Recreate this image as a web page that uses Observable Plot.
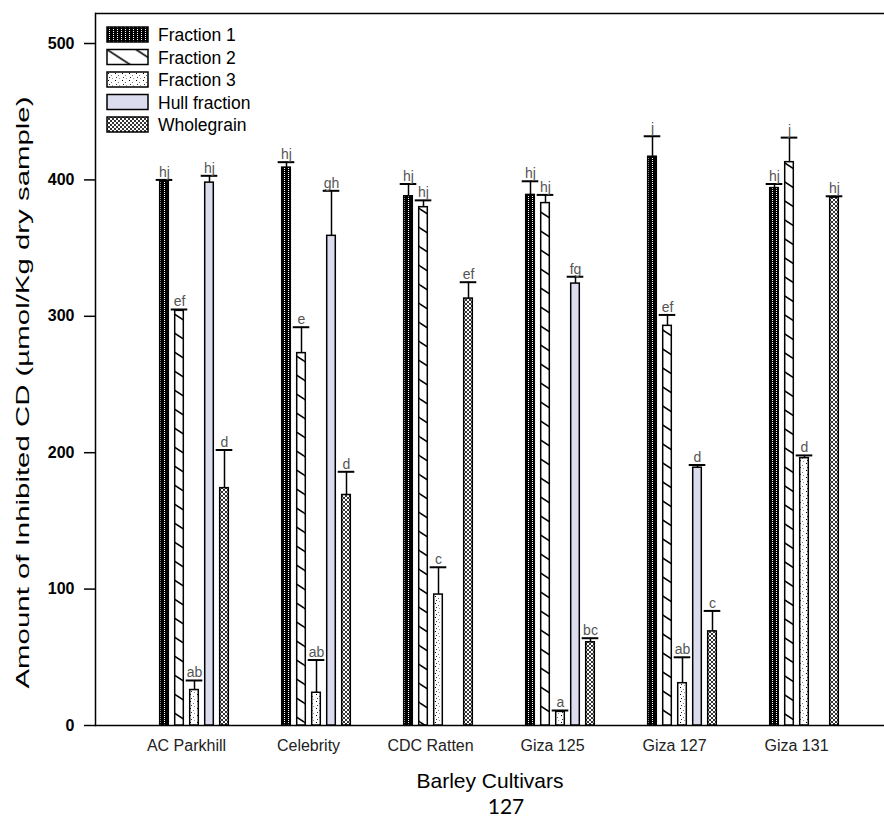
<!DOCTYPE html>
<html>
<head>
<meta charset="utf-8">
<script src="https://cdn.jsdelivr.net/npm/d3@7"></script>
<script src="https://cdn.jsdelivr.net/npm/@observablehq/plot@0.6"></script>
<style>
  html, body { margin: 0; padding: 0; background: #fff; }
  #chart { width: 884px; height: 819px; }
</style>
</head>
<body>
<svg width="0" height="0" style="position:absolute">
  <defs>
    <pattern id="pF1" patternUnits="userSpaceOnUse" width="4" height="2">
      <rect width="4" height="2" fill="#000"/>
      <rect x="2" y="0" width="1" height="1" fill="#fff"/>
    </pattern>
    <pattern id="pF2" patternUnits="userSpaceOnUse" width="29" height="19">
      <rect width="29" height="19" fill="#fff"/>
      <path d="M0,0L29,19M0,-19L29,0M0,19L29,38" stroke="#000" stroke-width="1.5"/>
    </pattern>
    <pattern id="pF3" patternUnits="userSpaceOnUse" width="7" height="7">
      <rect width="7" height="7" fill="#fff"/>
      <rect x="1" y="1" width="1" height="1" fill="#000"/>
      <rect x="4" y="3" width="1" height="1" fill="#777"/>
      <rect x="2" y="5" width="1" height="1" fill="#333"/>
      <rect x="5" y="6" width="1" height="1" fill="#999"/>
    </pattern>
    <pattern id="pWG" patternUnits="userSpaceOnUse" width="4" height="4">
      <rect width="4" height="4" fill="#fff"/>
      <path d="M0,0L4,4M4,0L0,4" stroke="#000" stroke-width="0.8"/>
    </pattern>
  </defs>
</svg>
<div id="chart"></div>
<script>
// ---- data ----
const cultivars = ["AC Parkhill", "Celebrity", "CDC Ratten", "Giza 125", "Giza 127", "Giza 131"];
const series = ["Fraction 1", "Fraction 2", "Fraction 3", "Hull fraction", "Wholegrain"];

const fraction1 = [399, 409, 388, 389, 417, 394];
const fraction1Err = [1, 4, 9, 10, 15, 3];
const fraction1Lbl = ["hj", "hj", "hj", "hj", "j", "hj"];

const fraction2 = [304, 273, 380, 383, 293, 413];
const fraction2Err = [1, 19, 5, 6, 8, 18];
const fraction2Lbl = ["ef", "e", "hj", "hj", "ef", "j"];

const fraction3 = [26, 24, 96, 10, 31, 196];
const fraction3Err = [7, 24, 20, 1, 19, 2];
const fraction3Lbl = ["ab", "ab", "c", "a", "ab", "d"];

const hull = [398, 359, null, 324, 189, null];
const hullErr = [5, 33, null, 5, 2, null];
const hullLbl = ["hj", "gh", null, "fg", "d", null];

const wholegrain = [174, 169, 313, 61, 69, 387];
const wholegrainErr = [28, 17, 12, 3, 15, 1];
const wholegrainLbl = ["d", "d", "ef", "bc", "c", "hj"];

const yTicks = [0, 100, 200, 300, 400, 500];
const yLabel = "Amount of Inhibited CD (\u00b5mol/Kg dry sample)";
const xLabel = "Barley Cultivars";
const pageNumber = "127";

// ---- build table ----
const values = [fraction1, fraction2, fraction3, hull, wholegrain];
const errs = [fraction1Err, fraction2Err, fraction3Err, hullErr, wholegrainErr];
const lbls = [fraction1Lbl, fraction2Lbl, fraction3Lbl, hullLbl, wholegrainLbl];
const fills = ["url(#pF1)", "url(#pF2)", "url(#pF3)", "#dcdcef", "url(#pWG)"];

const rows = [];
series.forEach((s, i) => cultivars.forEach((c, j) => {
  if (values[i][j] != null) rows.push({cultivar: c, series: s, k: i, value: values[i][j], err: errs[i][j], label: lbls[i][j]});
}));

// ---- layout ----
const W = 884, H = 819, mL = 95, mR = 0, mT = 13, mB = 94;
const yTop = 522;
const padOuter = 0.223, alignX = 0.67;
const bw = (W - mL - mR) / (cultivars.length + 2 * padOuter);
const barW = 9, capW = 17, stepX = 15;

const seriesMarks = series.flatMap((s, i) => {
  const d = rows.filter(r => r.k === i);
  const dx = (i - 2) * stepX;
  return [
    Plot.ruleX(d, {x: "cultivar", y1: "value", y2: r => r.value + r.err, dx, stroke: "#000", strokeWidth: 1.5}),
    Plot.tickY(d, {x: "cultivar", y: r => r.value + r.err, dx, insetLeft: (bw - capW) / 2, insetRight: (bw - capW) / 2, stroke: "#000", strokeWidth: 2}),
    Plot.barY(d, {x: "cultivar", y: "value", dx, insetLeft: (bw - barW) / 2, insetRight: (bw - barW) / 2, fill: fills[i], stroke: "#000", strokeWidth: 1.5}),
    Plot.text(d, {x: "cultivar", y: r => r.value + r.err, text: "label", dx, dy: -3, lineAnchor: "bottom", fontSize: 14, fill: "#555"})
  ];
});

const chart = Plot.plot({
  width: W, height: H,
  marginLeft: mL, marginRight: mR, marginTop: mT, marginBottom: mB,
  style: {fontFamily: "'Liberation Sans', Arial, sans-serif", background: "#fff", color: "#000", overflow: "visible"},
  x: {type: "band", domain: cultivars, paddingInner: 0, paddingOuter: padOuter, align: alignX, axis: null},
  y: {domain: [0, yTop], axis: null},
  marks: [
    Plot.axisY(yTicks, {anchor: "left", tickSize: 11, tickPadding: 10, fontSize: 16, fontWeight: "bold", label: null, strokeWidth: 1.5}),
    Plot.axisX({tickSize: 0, tickPadding: 14, fontSize: 16, label: null, fill: "#222", dx: -8}),
    Plot.ruleY([0], {stroke: "#000", strokeWidth: 1.5}),
    Plot.ruleY([yTop], {stroke: "#000", strokeWidth: 1.5}),
    Plot.frame({anchor: "left", stroke: "#000", strokeWidth: 1.5}),
    ...seriesMarks,
    Plot.text([xLabel], {frameAnchor: "bottom", dy: 62, fontSize: 21, fill: "#000"}),
    Plot.text([yLabel], {frameAnchor: "left", rotate: -90, textAnchor: "middle", dx: -73, dy: 23, fontSize: 19, fill: "#000"}),
    Plot.text([pageNumber], {frameAnchor: "bottom", dx: 16, dy: 88, fontSize: 21, fontFamily: "Lato, 'Open Sans', sans-serif", fill: "#000"})
  ]
});

document.getElementById("chart").appendChild(chart);

// stretch the y-axis title along its length, as in the reference
d3.select(chart).selectAll("text").filter(function () { return this.textContent === yLabel; })
  .attr("textLength", 592).attr("lengthAdjust", "spacingAndGlyphs");

// ---- legend (inside plot area, top-left) ----
const svg = d3.select(chart);
const lg = svg.append("g").attr("transform", "translate(107,27)").attr("text-anchor", "start");
series.forEach((s, i) => {
  const g = lg.append("g").attr("transform", `translate(0,${i * 22.5})`);
  g.append("rect").attr("width", 41).attr("height", 15).attr("fill", fills[i]).attr("stroke", "#000").attr("stroke-width", 1.5);
  g.append("text").attr("x", 51).attr("y", 8).attr("dy", "0.35em").attr("font-size", 17.5).attr("fill", "#000").text(s);
});
</script>
</body>
</html>
